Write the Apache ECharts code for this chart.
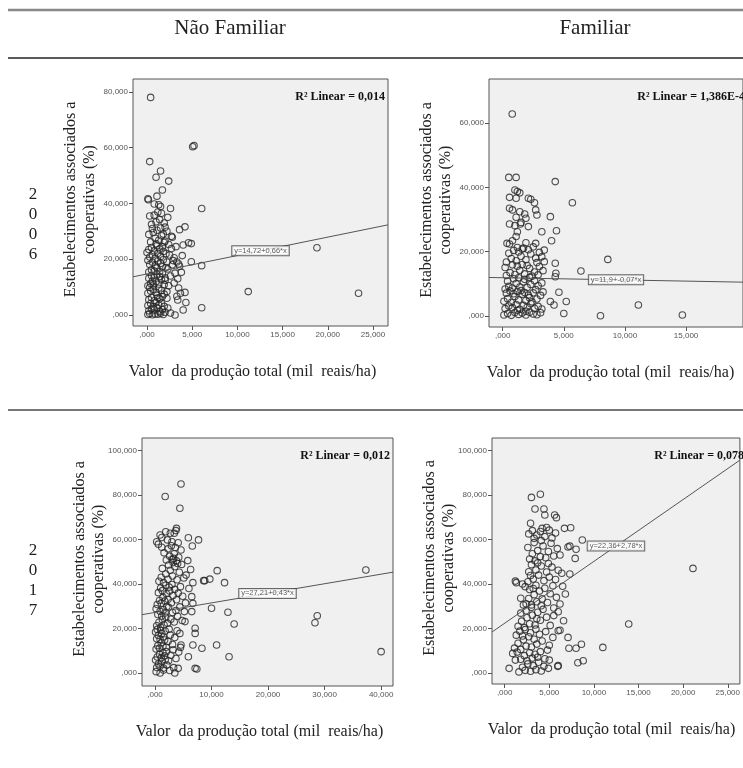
<!DOCTYPE html>
<html>
<head>
<meta charset="utf-8">
<script src="https://cdn.jsdelivr.net/npm/echarts@6/dist/echarts.min.js"></script>
<style>
  html, body { margin: 0; padding: 0; background: #fff; }
  #main { width: 743px; height: 768px; }
</style>
</head>
<body>
<div id="main"></div>
<script>
  // pontos: [valor da produção, % estabelecimentos]
  var naoFamiliar2006 = [
    [0.4,78.0],[5.05,60.3],[5.2,60.7],[0.3,55.0],[1.5,51.6],[1.0,49.4],[2.4,48.0],[1.7,44.8],[1.1,42.6],[0.1,41.7],[0.15,41.3],
    [6.05,38.2],[2.6,38.2],[1.5,38.9],[1.3,39.5],[0.8,39.8],[0.3,35.5],[4.2,31.6],[3.6,30.6],[4.6,25.9],[4.9,25.6],[4.0,25.1],
    [2.4,25.3],[3.9,21.3],[4.9,19.1],[2.7,28.2],[2.8,27.9],[6.05,17.7],[18.8,24.1],[11.2,8.4],[23.4,7.8],[6.05,2.6],[4.0,1.8],
    [3.1,0.0],[4.3,4.5],[4.2,8.1],[3.5,9.7],[3.7,7.8],[3.3,6.7],[3.4,5.4],[2.2,8.4],[2.6,0.7],
    [2.1,22.0],[2.5,21.5],[3.0,20.5],[3.3,19.0],[2.8,18.0],[3.6,17.5],[2.3,16.5],[3.1,15.0],[3.8,15.3],[2.6,14.0],[3.4,13.0],
    [2.0,12.5],[3.0,11.5],[2.4,10.5],[2.9,19.5],[3.5,18.3],[2.2,19.0],[2.7,23.8],[3.2,24.5],[2.0,26.5],[2.2,30.0],[1.9,33.0],
    [2.3,35.0],[1.6,36.5],[2.0,31.5],
    [0.1,0.2],[0.3,0.5],[0.6,0.1],[0.9,0.4],[1.2,0.3],[1.5,0.6],[1.8,0.2],[0.2,1.5],[0.5,2.2],[0.8,1.8],[1.1,2.6],[1.4,1.2],
    [1.7,2.0],[2.0,1.0],[0.1,3.4],[0.4,4.1],[0.7,3.0],[1.0,4.5],[1.3,3.6],[1.6,4.2],[1.9,3.1],[2.3,2.5],
    [0.2,5.5],[0.5,6.3],[0.8,5.1],[1.1,7.0],[1.4,5.8],[1.7,6.6],[0.1,7.8],[0.4,8.6],[0.7,9.2],[1.0,8.1],[1.3,9.6],[1.6,8.8],
    [1.9,7.5],[2.2,6.0],[0.3,9.9],[1.2,6.2],
    [0.1,10.5],[0.4,11.3],[0.7,10.8],[1.0,12.0],[1.3,11.1],[1.6,12.6],[1.9,10.9],[0.2,13.2],[0.5,14.1],[0.8,13.5],[1.1,14.6],
    [1.4,13.8],[1.7,14.9],[2.0,13.3],[0.6,12.2],
    [0.2,15.4],[0.5,16.2],[0.8,15.8],[1.1,16.9],[1.4,15.6],[1.7,17.3],[0.3,18.1],[0.6,18.9],[0.9,17.6],[1.2,19.4],[1.5,18.5],
    [1.8,19.8],[0.1,19.6],[2.1,17.0],
    [0.3,20.8],[0.6,21.6],[0.9,20.3],[1.2,22.1],[1.5,21.0],[1.8,22.8],[0.2,23.5],[0.5,24.2],[0.8,23.0],[1.1,24.8],[1.4,23.7],
    [1.7,24.5],[0.0,22.4],[1.0,25.5],
    [0.4,26.2],[0.9,27.5],[1.3,26.8],[1.6,28.4],[0.2,28.9],[0.7,29.6],[1.1,30.4],[1.5,31.2],[0.5,32.5],[1.0,33.4],[1.4,34.2],
    [0.8,35.8],[1.2,36.9],[1.8,29.0],[0.6,31.0],[1.9,26.0]
  ];
  var familiar2006 = [
    [0.78,62.8],[0.5,43.1],[1.1,43.1],[4.3,41.8],[5.7,35.2],[3.9,30.9],[4.4,26.5],[4.0,23.4],[3.2,26.2],[2.6,35.2],[2.1,36.6],
    [2.7,33.0],[2.8,31.4],[0.56,36.9],[1.1,36.6],[1.2,38.7],[1.0,39.2],[1.4,38.3],[2.3,36.3],[0.56,33.5],[0.8,33.0],[1.4,32.4],
    [1.8,31.7],[1.1,30.7],[1.9,30.4],[1.5,29.1],[0.56,28.6],[1.0,28.1],[1.45,28.6],[2.1,27.8],[1.2,26.2],[1.1,24.7],[0.8,23.4],
    [1.9,22.8],[2.7,22.6],[0.35,22.6],[0.56,22.4],[1.2,21.3],[1.6,20.8],[8.6,17.6],[6.4,14.0],[11.1,3.4],[14.7,0.3],[8.0,0.1],
    [5.0,0.8],[5.2,4.5],[4.6,7.4],[3.9,4.5],[4.2,3.4],[4.3,16.4],[4.35,13.3],[4.3,12.2],[3.4,20.5],[3.2,18.4],[3.4,16.9],
    [0.1,0.3],[0.4,0.8],[0.7,0.2],[1.0,1.1],[1.3,0.5],[1.6,0.9],[1.9,0.3],[2.2,1.2],[2.5,0.6],[2.8,0.4],[3.1,1.0],[0.2,2.3],
    [0.5,3.1],[0.8,2.6],[1.1,3.6],[1.4,2.1],[1.7,3.3],[2.0,2.7],[2.3,3.8],[2.6,2.4],[2.9,3.0],[3.2,2.2],[1.2,1.8],[1.9,1.5],
    [0.1,4.6],[0.4,5.4],[0.7,4.2],[1.0,6.1],[1.3,5.0],[1.6,6.8],[1.9,4.8],[2.2,5.7],[2.5,7.2],[2.8,5.3],[3.1,6.4],[0.3,7.1],
    [0.6,7.8],[0.9,6.9],[1.2,7.6],[1.5,7.9],[1.8,7.3],[2.1,6.5],[3.3,7.5],[2.4,4.4],
    [0.2,8.4],[0.5,9.2],[0.8,8.7],[1.1,10.1],[1.4,9.0],[1.7,10.6],[2.0,8.9],[2.3,9.8],[2.6,11.0],[2.9,9.4],[3.2,10.3],[0.4,10.8],
    [0.9,11.6],[1.3,11.9],[1.8,11.4],[2.2,12.0],[2.7,8.2],
    [0.3,12.6],[0.6,13.5],[1.0,12.9],[1.4,14.2],[1.8,13.1],[2.2,14.8],[2.6,13.7],[3.0,15.4],[0.2,15.1],[0.8,15.9],[1.2,15.5],
    [1.6,16.0],[2.0,15.7],[2.4,12.4],[2.9,12.8],[3.3,14.1],
    [0.3,16.8],[0.7,17.9],[1.1,17.2],[1.5,18.6],[1.9,17.5],[2.3,19.3],[2.7,18.0],[3.0,19.8],[0.5,19.5],[0.9,20.4],[1.3,19.9],
    [1.7,21.1],[2.1,20.6],[2.5,21.5],[2.8,16.6]
  ];
  var naoFamiliar2017 = [
    [4.6,84.9],[1.8,79.3],[4.4,74.0],[3.8,65.0],[3.7,64.0],[3.4,62.8],[7.7,59.8],[5.9,60.8],[6.6,57.1],[0.9,62.0],[1.2,60.9],
    [0.3,59.0],[0.6,57.9],[1.9,63.5],[2.7,62.8],[2.2,59.8],[3.0,59.0],[11.0,46.0],[37.3,46.3],[8.6,41.5],[8.8,41.5],[9.7,42.2],
    [12.3,40.6],[10.0,29.1],[12.9,27.3],[14.0,22.0],[28.3,22.6],[28.7,25.7],[6.7,40.6],[6.5,34.3],[6.7,31.3],[10.9,12.6],
    [13.1,7.3],[8.3,11.1],[5.9,7.3],[7.1,2.1],[7.4,1.8],[6.7,12.6],[7.1,17.8],[7.1,20.1],[6.5,27.6],[5.3,23.1],[4.4,17.8],
    [4.6,12.6],[3.5,0.0],[4.1,2.1],[0.9,0.0],[0.2,0.6],[1.5,1.3],[40.0,9.6],[6.3,46.5],[5.8,50.5],[5.5,44.0],[6.0,38.0],
    [0.3,2.5],[0.6,4.1],[0.9,3.0],[1.2,5.2],[1.5,2.2],[1.8,6.0],[2.1,3.6],[0.4,7.2],[0.8,8.5],[1.1,6.8],[1.4,9.1],[1.7,7.7],
    [2.0,9.6],[2.4,5.5],[2.8,8.0],[3.3,2.4],[3.7,6.5],[4.2,9.4],[0.1,5.8],[2.6,1.1],
    [0.2,10.8],[0.5,12.3],[0.8,11.1],[1.1,13.6],[1.4,12.0],[1.7,14.8],[2.0,11.6],[0.3,15.4],[0.6,16.9],[0.9,15.1],[1.2,17.8],
    [1.5,16.2],[1.8,18.9],[0.1,18.4],[0.4,19.6],[1.0,19.2],[2.3,14.2],[2.7,17.1],[3.1,12.8],[3.5,15.9],[3.9,19.0],[2.5,19.7],
    [4.5,11.5],[3.2,10.4],
    [0.3,21.2],[0.7,22.8],[1.0,20.6],[1.3,23.9],[1.6,21.7],[1.9,25.1],[2.2,22.4],[0.5,26.3],[0.9,27.7],[1.2,25.6],[1.5,28.4],
    [1.8,27.0],[2.4,29.5],[2.8,24.2],[3.1,27.2],[3.4,22.9],[3.7,28.1],[4.0,25.5],[4.4,29.7],[4.8,23.6],[5.2,27.6],[2.1,29.9],
    [0.2,28.9],
    [0.4,30.8],[0.8,32.6],[1.1,31.4],[1.4,34.0],[1.7,32.3],[2.0,35.6],[2.3,33.1],[2.6,36.8],[2.9,31.6],[3.2,34.8],[3.5,37.6],
    [3.8,32.9],[4.1,35.9],[4.5,38.8],[4.9,34.5],[0.6,36.1],[1.0,38.2],[1.3,37.0],[1.9,39.4],[2.5,38.6],[3.0,39.8],[5.4,31.5],
    [0.7,41.2],[1.1,43.0],[1.5,40.6],[1.9,44.5],[2.3,42.1],[2.7,46.2],[3.1,43.6],[3.5,47.8],[3.9,41.9],[4.3,45.3],[4.7,48.8],
    [5.1,42.7],[2.4,48.5],[3.2,49.6],[1.3,47.0],[4.0,49.2],
    [2.0,50.8],[2.6,52.5],[3.0,51.0],[3.4,53.6],[3.8,50.4],[4.2,52.0],[4.6,55.3],[2.3,55.8],[2.9,57.2],[3.6,56.4],[4.1,58.5],
    [1.6,54.0],[1.2,56.5],[3.3,51.5]
  ];
  var familiar2017 = [
    [3.0,78.9],[4.0,80.3],[3.4,73.7],[4.4,73.7],[4.5,71.0],[5.6,71.0],[5.8,69.8],[2.9,67.3],[4.2,65.0],[7.4,65.3],[6.7,65.0],
    [8.7,59.8],[8.0,55.6],[7.9,51.5],[7.3,57.0],[7.1,56.6],[21.1,47.0],[7.3,44.5],[6.4,44.8],[13.9,22.0],[11.0,11.5],[8.6,12.9],
    [8.0,11.1],[7.2,11.1],[8.8,5.5],[8.2,4.6],[7.1,16.0],[6.6,23.5],[6.0,19.0],[6.2,19.2],[6.0,3.3],[5.95,3.0],[5.0,5.8],
    [4.9,2.1],[0.5,2.1],[1.2,5.8],[0.9,8.8],[1.3,40.6],[1.2,41.3],[2.0,40.0],[2.3,38.8],[1.8,33.6],[2.1,30.6],[6.5,39.0],
    [6.8,35.5],[6.2,31.0],[6.0,27.5],[5.5,25.8],
    [1.6,0.5],[2.0,2.6],[2.3,1.2],[2.6,4.1],[2.9,0.8],[3.2,3.3],[3.5,1.5],[3.8,4.8],[4.1,0.9],[4.4,3.0],[1.8,6.2],[2.2,7.8],
    [2.5,5.5],[2.8,9.1],[3.1,6.7],[3.4,8.4],[3.7,7.1],[4.0,9.6],[4.5,6.4],[1.4,9.4],
    [1.1,11.2],[1.5,13.4],[1.8,10.6],[2.1,14.9],[2.4,12.1],[2.7,16.3],[3.0,11.7],[3.3,15.2],[3.6,13.0],[3.9,17.4],[4.2,14.4],
    [4.6,18.6],[5.0,12.5],[5.4,16.0],[1.3,17.0],[1.7,18.8],[2.0,16.6],[2.3,19.5],[2.9,18.1],[3.5,19.7],[4.8,10.3],
    [1.5,21.0],[1.9,23.3],[2.2,20.4],[2.5,24.8],[2.8,22.1],[3.1,26.0],[3.4,21.6],[3.7,27.3],[4.0,23.7],[4.3,28.6],[4.7,25.1],
    [5.1,21.4],[5.5,29.2],[2.4,28.0],[3.0,29.5],[1.8,26.9],[3.6,24.4],
    [2.4,31.1],[2.7,33.5],[3.0,30.6],[3.3,35.2],[3.6,32.0],[3.9,36.8],[4.2,33.3],[4.5,38.1],[4.8,31.7],[5.1,35.6],[5.4,39.2],
    [5.8,34.0],[2.8,37.5],[3.5,39.4],[4.1,30.2],[3.2,38.0],
    [2.6,41.0],[2.9,43.8],[3.2,42.2],[3.5,46.3],[3.8,44.0],[4.1,48.1],[4.4,41.5],[4.7,45.4],[5.0,43.1],[5.3,47.6],[5.7,42.0],
    [6.0,46.2],[3.0,48.7],[3.7,49.5],[4.9,49.2],[2.7,45.5],
    [2.8,51.2],[3.1,53.6],[3.4,50.4],[3.7,55.0],[4.0,52.3],[4.3,57.1],[4.6,51.8],[4.9,54.6],[5.2,58.3],[5.5,52.6],[5.9,55.9],
    [3.3,58.6],[4.1,59.5],[6.2,53.0],[2.6,56.4],
    [2.7,62.5],[3.1,64.0],[3.6,62.0],[4.0,63.6],[4.5,61.3],[5.0,64.2],[5.3,60.7],[3.3,60.5],[4.7,65.4],[5.7,62.9]
  ];

  // ajuste linear de cada painel (y = a + b*x)
  var intercepts = [14.72, 11.9, 27.21, 22.36];
  var slopes = [0.66, -0.07, 0.43, 2.78];
  var r2Labels = ['0,014', '1,386E-4', '0,012', '0,078'];

  var xTicks = [[0, 5, 10, 15, 20, 25], [0, 5, 10, 15, 20], [0, 10, 20, 30, 40], [0, 5, 10, 15, 20, 25]];
  var yTicks = [[0, 20, 40, 60, 80], [0, 20, 40, 60], [0, 20, 40, 60, 80, 100], [0, 20, 40, 60, 80, 100]];

  var colHeaders = ['Não Familiar', 'Familiar'];
  var rowYears = ['2006', '2017'];
  var xTitle = 'Valor  da produção total (mil  reais/ha)';
  var yTitle = 'Estabelecimentos associados a\ncooperativas (%)';

  var panelData = [naoFamiliar2006, familiar2006, naoFamiliar2017, familiar2017];

  // posição de cada caixa (px) e faixa dos eixos
  var panels = [
    { left: 133, top: 79, width: 255, height: 247, xMin: -1.55, xMax: 26.66, yMin: -3.94, yMax: 84.6 },
    { left: 489, top: 79, width: 259, height: 248, xMin: -1.12, xMax: 19.66, yMin: -3.42, yMax: 73.7 },
    { left: 142, top: 438, width: 251, height: 248, xMin: -2.30, xMax: 42.1, yMin: -5.84, yMax: 105.6 },
    { left: 492, top: 438, width: 255, height: 246, xMin: -1.42, xMax: 26.36, yMin: -4.94, yMax: 105.6 }
  ];

  var serif = '"Liberation Serif", "DejaVu Serif", serif';
  var sans = '"Liberation Sans", Arial, sans-serif';

  function fmtTick(v) {
    var s = v.toFixed(3).replace('.', ',');
    if (v === 0) s = ',000';
    return s;
  }
  function fmtNum(v) {
    return String(v).replace('.', ',');
  }

  var chart = echarts.init(document.getElementById('main'));

  var grids = [], xAxes = [], yAxes = [], series = [], graphics = [];

  panels.forEach(function (p, i) {
    grids.push({
      left: p.left, top: p.top, width: p.width, height: p.height,
      show: true, backgroundColor: '#f0f0f0', borderColor: '#555', borderWidth: 1
    });
    xAxes.push({
      type: 'value', gridIndex: i, min: p.xMin, max: p.xMax,
      axisLine: { show: false, onZero: false },
      axisTick: { show: true, inside: false, length: 4, customValues: xTicks[i], lineStyle: { color: '#555' } },
      axisLabel: { customValues: xTicks[i], formatter: fmtTick, fontSize: 8, color: '#555', fontFamily: sans, margin: 5 },
      splitLine: { show: false }
    });
    yAxes.push({
      type: 'value', gridIndex: i, min: p.yMin, max: p.yMax,
      axisLine: { show: false, onZero: false },
      axisTick: { show: true, inside: false, length: 4, customValues: yTicks[i], lineStyle: { color: '#555' } },
      axisLabel: { customValues: yTicks[i], formatter: fmtTick, fontSize: 8, color: '#555', fontFamily: sans, margin: 5 },
      splitLine: { show: false }
    });

    var a = intercepts[i], b = slopes[i];
    var mid = (p.xMin + p.xMax) / 2;

    series.push({
      type: 'scatter', xAxisIndex: i, yAxisIndex: i,
      data: panelData[i], symbol: 'circle', symbolSize: 6.5,
      itemStyle: { color: 'rgba(0,0,0,0)', borderColor: '#262626', borderWidth: 1.1 },
      silent: true, z: 2
    });
    series.push({
      type: 'line', xAxisIndex: i, yAxisIndex: i,
      data: [[p.xMin, a + b * p.xMin], [p.xMax, a + b * p.xMax]],
      symbol: 'none', lineStyle: { color: '#555', width: 1 }, silent: true, z: 3
    });
    series.push({
      type: 'scatter', xAxisIndex: i, yAxisIndex: i,
      data: [[mid, a + b * mid]], symbolSize: 1,
      itemStyle: { color: 'rgba(0,0,0,0)' }, silent: true, z: 4,
      label: {
        show: true, position: 'inside',
        formatter: 'y=' + fmtNum(a) + '+' + fmtNum(b) + '*x',
        fontSize: 7.5, fontFamily: sans, color: '#333',
        backgroundColor: '#fff', borderColor: '#444', borderWidth: 1, padding: [1, 2, 0, 2]
      }
    });

    graphics.push({
      type: 'text', x: p.left + p.width - 3, y: p.top + 18,
      style: {
        text: 'R² Linear = ' + r2Labels[i], fill: '#111',
        font: 'bold 12px ' + serif, textAlign: 'right', textVerticalAlign: 'middle'
      }
    });
    graphics.push({
      type: 'text', x: p.left + p.width / 2 - 8, y: p.top + p.height + 46,
      style: { text: xTitle, fill: '#222', font: '16px ' + serif, textAlign: 'center', textVerticalAlign: 'middle' }
    });
    graphics.push({
      type: 'text', x: p.left - 53, y: p.top + p.height / 2 - 3, rotation: Math.PI / 2,
      style: {
        text: yTitle, fill: '#222', font: '16px ' + serif, textAlign: 'center',
        textVerticalAlign: 'middle', lineHeight: 19
      }
    });
  });

  // linhas da tabela
  graphics.push({ type: 'line', shape: { x1: 8, y1: 10, x2: 743, y2: 10 }, style: { stroke: '#888', lineWidth: 2.5 } });
  graphics.push({ type: 'line', shape: { x1: 8, y1: 58, x2: 743, y2: 58 }, style: { stroke: '#222', lineWidth: 1.5 } });
  graphics.push({ type: 'line', shape: { x1: 8, y1: 410, x2: 743, y2: 410 }, style: { stroke: '#777', lineWidth: 2 } });

  [230, 595].forEach(function (cx, k) {
    graphics.push({
      type: 'text', x: cx, y: 28,
      style: { text: colHeaders[k], fill: '#222', font: '21px ' + serif, textAlign: 'center', textVerticalAlign: 'middle' }
    });
  });
  [225, 581].forEach(function (cy, k) {
    graphics.push({
      type: 'text', x: 33, y: cy,
      style: {
        text: rowYears[k].split('').join('\n'), fill: '#222', font: '17px ' + serif,
        textAlign: 'center', textVerticalAlign: 'middle', lineHeight: 20
      }
    });
  });

  var option = {
    animation: false,
    grid: grids,
    xAxis: xAxes,
    yAxis: yAxes,
    series: series,
    graphic: graphics
  };
  chart.setOption(option);
</script>
</body>
</html>
